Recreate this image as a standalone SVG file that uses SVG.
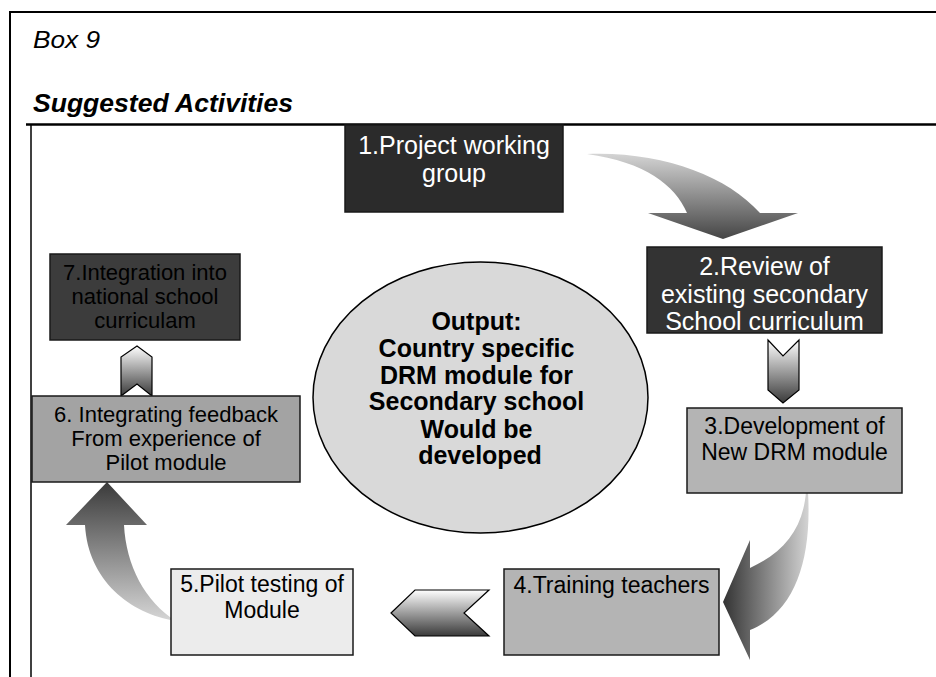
<svg xmlns="http://www.w3.org/2000/svg" width="936" height="677" viewBox="0 0 936 677">
<style>
  .frame { stroke: #000; fill: none; }
  .box { stroke: #1a1a1a; stroke-width: 1.5; }
  .t { font-family: "Liberation Sans", Arial, sans-serif; text-anchor: middle; fill: #000; }
  .w { fill: #fff; }
  .b { font-weight: bold; }
  .title { font-family: "Liberation Sans", Arial, sans-serif; font-style: italic; fill: #000; }
  .chev { stroke: #000; stroke-width: 1.2; }
</style>
<defs>
  <linearGradient id="gDown" x1="0" y1="0" x2="0" y2="1">
    <stop offset="0" stop-color="#ffffff"/>
    <stop offset="1" stop-color="#3a3a3a"/>
  </linearGradient>
  <linearGradient id="gA12" x1="0" y1="154" x2="0" y2="239" gradientUnits="userSpaceOnUse">
    <stop offset="0" stop-color="#d4d4d4"/>
    <stop offset="1" stop-color="#454545"/>
  </linearGradient>
  <linearGradient id="gA34" x1="723" y1="0" x2="812" y2="0" gradientUnits="userSpaceOnUse">
    <stop offset="0" stop-color="#333333"/>
    <stop offset="1" stop-color="#dadada"/>
  </linearGradient>
  <linearGradient id="gA56" x1="0" y1="482" x2="0" y2="621" gradientUnits="userSpaceOnUse">
    <stop offset="0" stop-color="#3a3a3a"/>
    <stop offset="1" stop-color="#d6d6d6"/>
  </linearGradient>
</defs>

<g id="frame">
  <line class="frame" x1="10" y1="12" x2="10" y2="677" stroke-width="2"/>
  <line class="frame" x1="9" y1="12" x2="936" y2="12" stroke-width="2"/>
  <line class="frame" x1="26" y1="124.5" x2="936" y2="124.5" stroke-width="2.5"/>
  <line class="frame" x1="31" y1="124" x2="31" y2="677" stroke-width="1.5"/>
  <text class="title" x="33" y="48" font-size="24" textLength="67" lengthAdjust="spacingAndGlyphs">Box 9</text>
  <text class="title" x="33" y="112" font-size="25" font-weight="bold" textLength="260" lengthAdjust="spacingAndGlyphs">Suggested Activities</text>
</g>

<g id="connectors">
  <path d="M587,154 C660,151 726,175 760,213 L798,213 L723,239 L648,213 L687,213 C675,185 645,162 587,154 Z" fill="url(#gA12)"/>
  <polygon class="chev" points="768,340 783,356 799,340 799,390 783,403 768,390" fill="url(#gDown)"/>
  <path d="M808,492 C812,560 795,612 750,630 L750,660 L723,602 L750,540 L750,568 C785,552 803,528 806,492 Z" fill="url(#gA34)"/>
  <polygon class="chev" points="391,613 415,590 489,590 464,613 489,636 415,636" fill="url(#gDown)"/>
  <path d="M176,621 C130,614 88,580 85,525 L66,525 L107,482 L147,525 L124,525 C126,565 145,602 176,621 Z" fill="url(#gA56)"/>
  <polygon class="chev" points="137,346 152,357 152,396 137,384 121,396 121,357" fill="url(#gDown)"/>
</g>

<g id="output">
  <ellipse cx="480.5" cy="397.5" rx="167.5" ry="135.5" fill="#d9d9d9" stroke="#000" stroke-width="1.5"/>
  <text class="t b" font-size="25">
    <tspan x="480" y="330">Output:</tspan>
    <tspan x="480" y="357">Country specific</tspan>
    <tspan x="480" y="384">DRM module for</tspan>
    <tspan x="480" y="410">Secondary school</tspan>
    <tspan x="480" y="438">Would be</tspan>
    <tspan x="480" y="464">developed</tspan>
  </text>
</g>

<g id="node1">
  <rect class="box" x="345" y="125" width="218" height="87" fill="#2b2b2b"/>
  <text class="t w" font-size="25"><tspan x="454" y="154">1.Project working</tspan><tspan x="454" y="182">group</tspan></text>
</g>

<g id="node2">
  <rect class="box" x="647" y="247" width="235" height="86" fill="#333333"/>
  <text class="t w" font-size="25"><tspan x="764.5" y="275">2.Review of</tspan><tspan x="764.5" y="303">existing secondary</tspan><tspan x="764.5" y="330">School curriculum</tspan></text>
</g>

<g id="node3">
  <rect class="box" x="687" y="408" width="215" height="85" fill="#b4b4b4"/>
  <text class="t" font-size="23"><tspan x="794.5" y="434">3.Development of</tspan><tspan x="794.5" y="460">New DRM module</tspan></text>
</g>

<g id="node4">
  <rect class="box" x="504" y="569" width="215" height="86" fill="#b4b4b4"/>
  <text class="t" font-size="23"><tspan x="611.5" y="593">4.Training teachers</tspan></text>
</g>

<g id="node5">
  <rect class="box" x="171" y="569" width="182" height="86" fill="#ececec"/>
  <text class="t" font-size="23"><tspan x="262" y="592">5.Pilot testing of</tspan><tspan x="262" y="618">Module</tspan></text>
</g>

<g id="node6">
  <rect class="box" x="32" y="396" width="268" height="86" fill="#a3a3a3"/>
  <text class="t" font-size="22"><tspan x="166" y="422">6. Integrating feedback</tspan><tspan x="166" y="446">From experience of</tspan><tspan x="166" y="470">Pilot module</tspan></text>
</g>

<g id="node7">
  <rect class="box" x="50" y="254" width="190" height="86" fill="#3c3c3c"/>
  <text class="t" font-size="22"><tspan x="145" y="280">7.Integration into</tspan><tspan x="145" y="304">national school</tspan><tspan x="145" y="328">curriculam</tspan></text>
</g>
</svg>
